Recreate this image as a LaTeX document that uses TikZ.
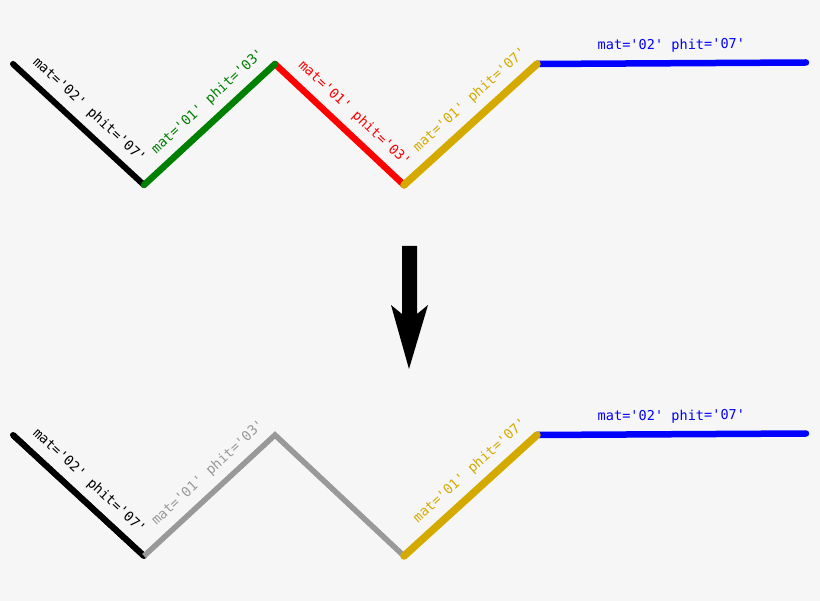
\documentclass[tikz,border=0pt]{standalone}
\usepackage{fontspec}
\newfontfamily\lblfont{DejaVu Sans Mono}
\definecolor{bg}{HTML}{F6F6F6}
\definecolor{cgreen}{HTML}{008000}
\definecolor{cred}{HTML}{FF0000}
\definecolor{cgold}{HTML}{D4AA00}
\definecolor{cblue}{HTML}{0000FF}
\definecolor{cgray}{HTML}{999999}
\begin{document}
\begin{tikzpicture}[x=1pt,y=-1pt,
  seg/.style={line width=#1, line cap=round},
  lbl/.style={font=\lblfont\fontsize{13.6}{16}\selectfont, inner xsep=0pt, inner ysep=8pt, anchor=south, sloped}]
\fill[bg] (0,0) rectangle (820,601);
\useasboundingbox (0,0) rectangle (820,601);
% top chain
\coordinate (a1) at (13,64);
\coordinate (a2) at (144,185);
\coordinate (a3) at (275,64);
\coordinate (a4) at (404,185);
\coordinate (a5) at (537,64);
\coordinate (a6) at (806,62.5);
\draw[seg=6pt, black] (a1) -- node[lbl, text=black, pos=0.49] {mat='02' phit='07'} (a2);
\draw[seg=6.5pt, cred] (a3) -- node[lbl, text=cred, pos=0.52] {mat='01' phit='03'} (a4);
\draw[seg=6.5pt, cblue] (a5) -- node[lbl, text=cblue, midway] {mat='02' phit='07'} (a6);
\draw[seg=6.5pt, cgreen] (a2) -- node[lbl, text=cgreen, pos=0.58] {mat='01' phit='03'} (a3);
\draw[seg=7.5pt, cgold] (a4) -- node[lbl, text=cgold, pos=0.59] {mat='01' phit='07'} (a5);
% arrow
\fill[black] (402,246) coordinate (arrtop) -- (417,246) -- (417,314) -- (428,305) -- (409,369) coordinate (arrtip) -- (391,305) -- (402,314) -- cycle;
% bottom chain
\coordinate (b1) at (13,435);
\coordinate (b2) at (144,556);
\coordinate (b3) at (275,435);
\coordinate (b4) at (404,556);
\coordinate (b5) at (537,435);
\coordinate (b6) at (806,433.5);
\draw[line width=6pt, black, line cap=round] (b2) -- (b1);
\draw[line width=6pt, black] (b1) -- node[lbl, text=black, pos=0.49] {mat='02' phit='07'} (b2);
\draw[line width=5.5pt, cgray, line join=miter] (b2) -- node[lbl, text=cgray, pos=0.58] {mat='01' phit='03'} (b3) -- (b4);
\draw[seg=6.5pt, cblue] (b5) -- node[lbl, text=cblue, midway] {mat='02' phit='07'} (b6);
\draw[seg=7.5pt, cgold] (b4) -- node[lbl, text=cgold, pos=0.59] {mat='01' phit='07'} (b5);
\end{tikzpicture}
\end{document}
